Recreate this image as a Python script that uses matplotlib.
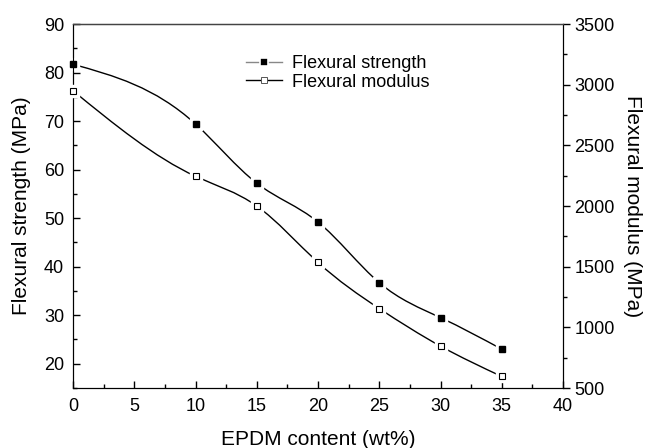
import numpy as np
import matplotlib
matplotlib.use("Agg")
import matplotlib.pyplot as plt
from matplotlib.path import Path
from matplotlib.patches import PathPatch
from matplotlib.lines import Line2D

plt.rcParams['font.family'] = ['Liberation Sans', 'DejaVu Sans']
plt.rcParams['font.size'] = 13

# EPDM loading and the two measured properties
epdm = [0, 10, 15, 20, 25, 30, 35]
strength = [81.7, 69.4, 57.2, 49.2, 36.7, 29.5, 23.0]      # MPa
modulus = [2950, 2245, 2000, 1535, 1155, 845, 595]         # MPa


def spline_path(x, y):
    # natural cubic spline through the points, written as Bezier segments
    x = np.asarray(x, float)
    y = np.asarray(y, float)
    n = len(x)
    h = np.diff(x)
    A = np.zeros((n, n))
    b = np.zeros(n)
    A[0, 0] = A[-1, -1] = 1
    for i in range(1, n - 1):
        A[i, i - 1] = h[i - 1]
        A[i, i] = 2 * (h[i - 1] + h[i])
        A[i, i + 1] = h[i]
        b[i] = 6 * ((y[i + 1] - y[i]) / h[i] - (y[i] - y[i - 1]) / h[i - 1])
    M = np.linalg.solve(A, b)
    d = np.zeros(n)
    for i in range(n - 1):
        d[i] = (y[i + 1] - y[i]) / h[i] - h[i] * (2 * M[i] + M[i + 1]) / 6
    d[-1] = (y[-1] - y[-2]) / h[-1] + h[-1] * (M[-2] + 2 * M[-1]) / 6
    verts = [(x[0], y[0])]
    codes = [Path.MOVETO]
    for i in range(n - 1):
        verts += [(x[i] + h[i] / 3, y[i] + d[i] * h[i] / 3),
                  (x[i + 1] - h[i] / 3, y[i + 1] - d[i + 1] * h[i] / 3),
                  (x[i + 1], y[i + 1])]
        codes += [Path.CURVE4] * 3
    return Path(verts, codes)


fig = plt.figure(figsize=(6.45, 4.48), dpi=100)
ax = fig.add_axes([0.1132, 0.1339, 0.7597, 0.8125])
ax2 = ax.twinx()

ax.add_patch(PathPatch(spline_path(epdm, strength), fill=False, lw=1.0,
                       ec='black', zorder=2))
ax2.add_patch(PathPatch(spline_path(epdm, modulus), fill=False, lw=1.0,
                        ec='black', zorder=2))

# white halo under the markers so the curve stops short of them
ax.plot(epdm, strength, ls='none', marker='s', ms=8.5, mfc='white',
        mec='white', zorder=3, clip_on=False)
ax.plot(epdm, strength, ls='none', marker='s', ms=5, mfc='black',
        mec='black', zorder=4, clip_on=False)
ax2.plot(epdm, modulus, ls='none', marker='s', ms=8.5, mfc='white',
         mec='white', zorder=3, clip_on=False)
ax2.plot(epdm, modulus, ls='none', marker='s', ms=5, mfc='white',
         mec='black', mew=0.8, zorder=4, clip_on=False)

ax.set_xlim(0, 40)
ax.set_ylim(15, 90)
ax2.set_ylim(500, 3500)

ax.set_xticks(np.arange(0, 41, 5))
ax.set_xticks(np.arange(2.5, 40, 5), minor=True)
ax.set_yticks(np.arange(20, 91, 10))
ax.set_yticks(np.arange(15, 90, 5), minor=True)
ax2.set_yticks(np.arange(500, 3501, 500))
ax2.set_yticks(np.arange(750, 3500, 500), minor=True)

ax.tick_params(axis='both', which='major', direction='in', length=5,
               width=1, pad=6.5, labelsize=13)
ax.tick_params(axis='both', which='minor', direction='in', length=3,
               width=1)
ax.tick_params(axis='x', pad=7)
ax2.tick_params(axis='y', which='major', direction='out', length=5,
                width=1, pad=3, labelsize=13)
ax2.tick_params(axis='y', which='minor', direction='out', length=3,
                width=1)

for a in (ax, ax2):
    a.spines['top'].set_color('#444444')
    a.spines['top'].set_linewidth(0.9)

ax.set_xlabel('EPDM content (wt%)', fontsize=15, labelpad=11)
ax.set_ylabel('Flexural strength (MPa)', fontsize=15, labelpad=9)
ax2.set_ylabel('Flexural modulus (MPa)', fontsize=15, rotation=270,
               labelpad=20)

handles = [
    Line2D([], [], color='#888888', lw=1, marker='s', ms=5.2, mfc='black',
           mec='white', mew=1.2),
    Line2D([], [], color='black', lw=1, marker='s', ms=3.8, mfc='white',
           mec='#555555', mew=0.7),
]
ax.legend(handles, ['Flexural strength', 'Flexural modulus'],
          loc='upper left', bbox_to_anchor=(0.327, 0.95), frameon=False,
          handlelength=2.0, handletextpad=0.55, labelspacing=0.1,
          fontsize=13, borderpad=0.2)

fig.savefig('out.png', dpi=100)
